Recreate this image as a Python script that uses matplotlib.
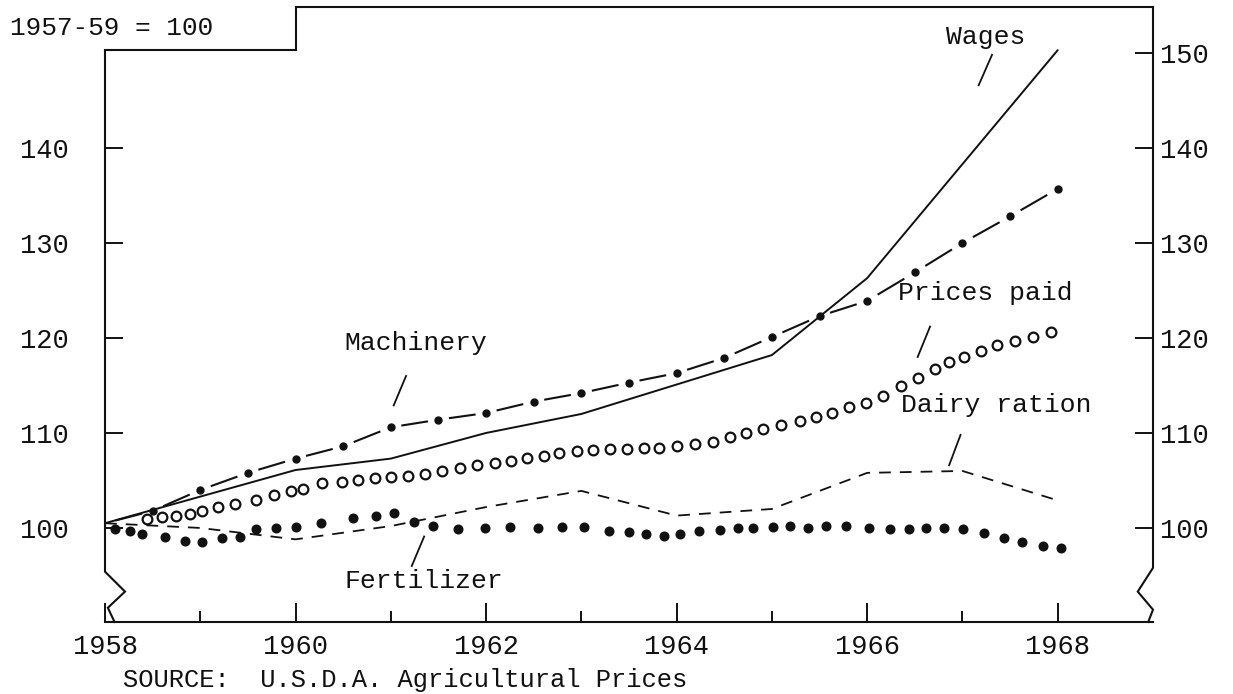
import matplotlib
matplotlib.use("Agg")
import matplotlib.pyplot as plt
import numpy as np

plt.rcParams['font.family'] = ['Liberation Mono', 'DejaVu Sans Mono']

# ---------------- data ----------------
years = [1958, 1959, 1960, 1961, 1962, 1963, 1964, 1965, 1966, 1967, 1968]
wages = [100.5, 103.3, 106.1, 107.3, 110.0, 112.0, 115.1, 118.2, 126.3, 138.3, 150.3]
dairy_ration = [100.5, 100.0, 98.8, 100.2, 102.2, 103.9, 101.3, 102.0, 105.8, 106.0, 102.9]

machinery_years = [1958.0, 1958.5, 1959.0, 1959.5, 1960.0, 1960.5, 1961.0, 1961.5,
                   1962.0, 1962.5, 1963.0, 1963.5, 1964.0, 1964.5, 1965.0, 1965.5,
                   1966.0, 1966.5, 1967.0, 1967.5, 1968.0]
machinery = [100.5, 101.8, 104.0, 105.8, 107.3, 108.6, 110.6, 111.4,
             112.1, 113.3, 114.2, 115.3, 116.3, 117.9, 120.1, 122.3,
             123.9, 126.9, 130.0, 132.8, 135.7]

prices_paid_years = [1958.44, 1958.60, 1958.75, 1958.89, 1959.02, 1959.19, 1959.36, 1959.58,
                     1959.77, 1959.95, 1960.08, 1960.28, 1960.49, 1960.66, 1960.83, 1961.00,
                     1961.18, 1961.36, 1961.54, 1961.73, 1961.90, 1962.09, 1962.26, 1962.43,
                     1962.61, 1962.77, 1962.95, 1963.12, 1963.30, 1963.48, 1963.66, 1963.82,
                     1964.00, 1964.19, 1964.38, 1964.56, 1964.73, 1964.91, 1965.10, 1965.29,
                     1965.46, 1965.63, 1965.81, 1965.99, 1966.17, 1966.35, 1966.53, 1966.71,
                     1966.86, 1967.02, 1967.19, 1967.36, 1967.55, 1967.74, 1967.93]
prices_paid = [100.92, 101.13, 101.26, 101.47, 101.82, 102.24, 102.53, 102.95,
               103.47, 103.93, 104.07, 104.71, 104.87, 105.05, 105.23, 105.34,
               105.47, 105.68, 106.03, 106.35, 106.63, 106.81, 107.05, 107.34,
               107.58, 107.86, 108.11, 108.21, 108.28, 108.35, 108.45, 108.45,
               108.63, 108.81, 109.08, 109.61, 110.00, 110.39, 110.84, 111.26,
               111.65, 112.14, 112.77, 113.13, 113.89, 114.95, 115.76, 116.71,
               117.51, 118.03, 118.63, 119.26, 119.68, 120.07, 120.60]

fertilizer_years = [1958.11, 1958.26, 1958.39, 1958.63, 1958.84, 1959.02, 1959.23, 1959.42,
                    1959.58, 1959.80, 1960.00, 1960.27, 1960.60, 1960.84, 1961.03, 1961.24,
                    1961.44, 1961.70, 1961.99, 1962.25, 1962.55, 1962.80, 1963.03, 1963.29,
                    1963.50, 1963.68, 1963.87, 1964.04, 1964.23, 1964.46, 1964.64, 1964.80,
                    1965.01, 1965.19, 1965.38, 1965.57, 1965.78, 1966.02, 1966.24, 1966.44,
                    1966.62, 1966.81, 1967.01, 1967.23, 1967.44, 1967.62, 1967.85, 1968.03]
fertilizer = [99.86, 99.72, 99.37, 99.02, 98.66, 98.55, 98.92, 99.08,
              99.86, 99.97, 100.07, 100.49, 101.02, 101.26, 101.61, 100.66,
              100.21, 99.93, 99.97, 100.07, 100.03, 100.14, 100.07, 99.72,
              99.61, 99.34, 99.16, 99.37, 99.68, 99.79, 99.97, 100.03,
              100.07, 100.21, 100.03, 100.21, 100.24, 99.97, 99.86, 99.86,
              99.97, 99.97, 99.86, 99.51, 98.92, 98.56, 98.11, 97.86]

x_major = [1958, 1960, 1962, 1964, 1966, 1968]
x_labels = ['1958', '1960', '1962', '1964', '1966', '1968']
x_minor = [1959, 1961, 1963, 1965, 1967]
left_ticks = [100, 110, 120, 130, 140]
right_ticks = [100, 110, 120, 130, 140, 150]

# ---------------- figure ----------------
W, H = 1233, 694
fig = plt.figure(figsize=(W / 100, H / 100), dpi=100)
ax = fig.add_axes([105 / W, 72 / H, (1153 - 105) / W, (622 - 7) / H])
XMIN, XMAX = 1958, 1969
YMIN, YMAX = 90.1, 154.84
ax.set_xlim(XMIN, XMAX)
ax.set_ylim(YMIN, YMAX)

ink = '#111111'
FS_TICK = 19.5
FS_LAB = 19

# Wages: solid line
ax.plot(years, wages, color=ink, lw=1.4, solid_capstyle='round', zorder=3)

# Dairy ration: dashed line
ax.plot(years, dairy_ration, color=ink, lw=1.3, linestyle=(0, (6.5, 5)), zorder=3)

# Machinery: dash between dots
mx = np.array(machinery_years)
my = np.array(machinery)
for i in range(len(mx) - 1):
    xs = mx[i] + (mx[i + 1] - mx[i]) * np.array([0.22, 0.78])
    ys = my[i] + (my[i + 1] - my[i]) * np.array([0.22, 0.78])
    ax.plot(xs, ys, color=ink, lw=1.5, solid_capstyle='butt', zorder=3)
ax.plot(mx[1:], my[1:], linestyle='none', marker='o', markersize=5,
        markerfacecolor=ink, markeredgecolor=ink, zorder=4)

# Prices paid: hollow circles
ax.plot(prices_paid_years, prices_paid, linestyle='none', marker='o', markersize=7,
        markerfacecolor='white', markeredgecolor=ink, markeredgewidth=1.6, zorder=4)

# Fertilizer: filled dots
ax.plot(fertilizer_years, fertilizer, linestyle='none', marker='o', markersize=6.2,
        markerfacecolor=ink, markeredgecolor=ink, zorder=4)

# ---------------- frame ----------------
for s in ['left', 'right', 'top']:
    ax.spines[s].set_visible(False)
ax.spines['bottom'].set_linewidth(1.5)
ax.spines['bottom'].set_color(ink)

frame_kw = dict(color=ink, lw=1.5, clip_on=False, solid_joinstyle='miter', zorder=5)
ax.plot([1958, 1958, 1958.21, 1958.03, 1958.10], [150.3, 95.4, 93.3, 91.6, 90.1], **frame_kw)
ax.plot([1958, 1960, 1960, 1969], [150.3, 150.3, YMAX, YMAX], **frame_kw)
ax.plot([1969, 1969, 1968.84, 1969, 1968.95], [YMAX, 95.8, 93.3, 91.4, 90.1], **frame_kw)

# ---------------- ticks ----------------
ax.set_xticks(x_major)
ax.set_xticklabels(x_labels)
ax.set_xticks(x_minor, minor=True)
ax.tick_params(axis='x', which='major', direction='in', length=14, width=1.4,
               color=ink, labelsize=FS_TICK, pad=9, labelcolor=ink)
ax.tick_params(axis='x', which='minor', direction='in', length=8, width=1.4, color=ink)

ax.set_yticks(left_ticks)
ax.set_yticklabels([str(v) for v in left_ticks])
ax.tick_params(axis='y', which='major', direction='in', length=13, width=1.4,
               color=ink, labelsize=FS_TICK, pad=26, labelcolor=ink)
ax.tick_params(axis='y', which='minor', left=False)

ax2 = ax.twinx()
ax2.set_ylim(YMIN, YMAX)
for s in ax2.spines.values():
    s.set_visible(False)
ax2.set_yticks(right_ticks)
ax2.set_yticklabels([str(v) for v in right_ticks])
ax2.tick_params(axis='y', which='major', direction='in', length=13, width=1.4,
                color=ink, labelsize=FS_TICK, pad=5, labelcolor=ink)

# ---------------- labels & leaders ----------------
tk = dict(fontsize=FS_LAB, color=ink, ha='center', va='center', zorder=6)
ax.text(1967.24, 151.7, 'Wages', **tk)
ax.plot([1967.31, 1967.17], [149.8, 146.6], color=ink, lw=1.3)
ax.text(1961.26, 119.5, 'Machinery', **tk)
ax.plot([1961.16, 1961.03], [116.0, 112.9], color=ink, lw=1.3)
ax.text(1967.24, 124.7, 'Prices paid', **tk)
ax.plot([1966.66, 1966.53], [121.2, 118.0], color=ink, lw=1.3)
ax.text(1967.35, 112.95, 'Dairy ration', **tk)
ax.plot([1966.98, 1966.86], [109.8, 106.6], color=ink, lw=1.3)
ax.text(1961.35, 94.4, 'Fertilizer', **tk)
ax.plot([1961.35, 1961.22], [99.1, 96.0], color=ink, lw=1.3)

fig.text(10 / W, 1 - 28 / H, '1957-59 = 100', fontsize=18.8, color=ink, ha='left', va='center')
fig.text(123 / W, 1 - 680 / H, 'SOURCE:  U.S.D.A. Agricultural Prices', fontsize=18.4,
         color=ink, ha='left', va='center')

fig.savefig('out.png', dpi=100, facecolor='white')
